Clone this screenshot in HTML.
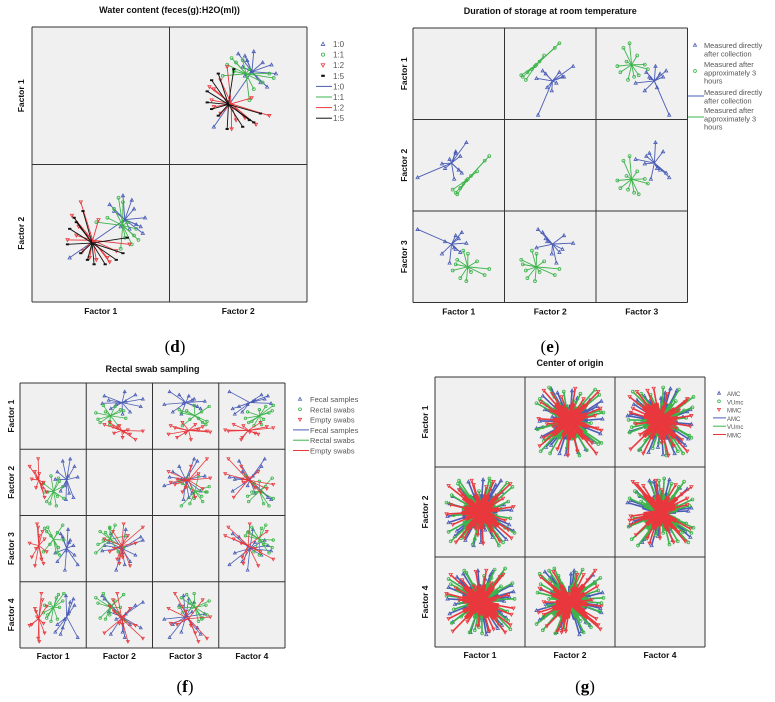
<!DOCTYPE html>
<html><head><meta charset="utf-8"><style>
html,body{margin:0;padding:0;background:#fff;}
svg{display:block;font-family:"Liberation Sans",sans-serif;}
.t{font-size:9px;font-weight:bold;fill:#111;text-anchor:middle;}
.ax{font-size:8.5px;font-weight:bold;fill:#111;text-anchor:middle;}
.lg{fill:#555;}
.cap{font-family:"Liberation Serif",serif;font-size:17px;fill:#000;text-anchor:middle;}
</style></head><body>
<svg id="fig" width="775" height="702" viewBox="0 0 775 702"></svg>
<script>
// ---------- data ----------
const dFactors = ["Factor 1","Factor 2"];
const dGroups = ["1:0","1:1","1:2","1:5"];
const dBlue = [[1.9,0.6],[1.7,0.2],[1.3,1.4],[0.9,1.6],[1.5,0.3],[1.2,0.1],[1.8,-0.1],[0.5,0.9],[0.3,1.2],[-1.5,-1.2],[1.0,0.5],[0.8,0.2],[1.4,1.0]];
const dGreen = [[1.6,-0.4],[1.4,-0.2],[0.7,1.5],[0.9,1.3],[1.1,0.4],[1.3,-0.6],[0.5,1.0],[1.0,-0.3],[0.2,0.6],[1.5,0.1],[-0.3,0.4],[0.8,-0.8]];
const dRed = [[-1.4,0.7],[-1.0,1.3],[-1.2,-0.2],[-0.9,-0.9],[-0.3,-1.3],[0.2,-1.2],[0.6,-0.9],[-1.6,-0.4],[-0.6,-1.2],[1.2,-0.6],[-0.2,0.5],[-1.1,0.2],[0.3,-1.4]];
const dBlack = [[-1.6,-0.6],[-1.3,0.6],[-0.9,0.9],[-0.4,-1.5],[0.1,-1.5],[0.9,-1.0],[1.1,-0.3],[-1.5,0.1],[-0.7,-1.3],[-1.0,-1.0],[0.6,-1.3],[-1.2,0.4]];

const eFactors = ["Factor 1","Factor 2","Factor 3"];
const eGroups = ["Measured directly after collection","Measured after approximately 3 hours"];
const eBlue = [[-2.7,-0.8,1.8],[0.5,1.5,0.9],[-0.2,0.9,1.4],[0.1,0.6,0.3],[-0.9,-0.2,1.0],[-0.6,0.4,-0.4],[-0.3,-0.9,0.6],[0.2,-0.5,1.6],[-1.1,0.1,0.2],[0.0,-0.3,1.2],[-0.2,0.8,0.5]];
const eGreen = [[2.0,0.6,-0.8],[1.7,0.3,-1.2],[1.2,-0.4,-0.3],[0.6,-0.9,0.2],[0.1,-1.5,-1.4],[-0.2,-1.8,-0.5],[-0.4,-1.6,-0.9],[0.3,-1.2,0.4],[0.8,-0.7,-1.0],[-0.1,-1.9,-0.2],[0.5,-1.0,-1.6]];

const fFactors = ["Factor 1","Factor 2","Factor 3","Factor 4"];
const fGroups = ["Fecal samples","Rectal swabs","Empty swabs"];
const fBlue = [[2.3,0.5,-1.5,-2.1],[1.6,2.2,0.8,1.2],[0.7,-0.8,1.4,-1.8],[2.0,1.5,-0.6,0.9],[0.4,1.0,-1.2,-0.9],[1.9,-1.4,0.3,1.5],[1.1,-0.3,-2.0,-0.4],[0.9,2.0,1.1,-1.2],[1.5,-1.0,0.6,0.3],[0.2,0.3,-0.4,-1.6],[1.4,0.6,1.8,0.1],[1.2,-1.6,-0.2,1.8]];
const fGreen = [[0.9,-0.4,2.2,1.3],[-0.6,-1.8,1.6,-0.3],[0.5,0.4,0.1,1.9],[-0.8,-0.9,1.9,0.9],[0.3,-2.2,-0.4,1.6],[-0.2,0.6,1.2,-0.6],[1.0,-1.5,0.8,2.0],[-0.9,-0.1,-0.3,0.2],[0.4,-1.3,1.5,-0.4],[-0.3,-2.0,0.4,1.1],[0.6,0.1,-0.6,0.7],[-0.5,-0.9,2.0,0.0]];
const fRed = [[-1.4,2.2,2.0,-2.2],[-2.0,0.3,-0.8,-0.9],[-1.0,-0.6,1.6,1.4],[-1.7,1.0,-1.6,0.6],[-0.8,-1.4,0.9,-1.7],[-1.5,0.4,2.3,-0.2],[-1.1,-0.2,-1.0,2.0],[-2.2,1.5,0.5,-1.0],[-0.6,-0.9,-0.3,0.8],[-1.3,0.8,1.2,-2.5],[-1.6,-0.5,0.0,0.3],[-0.9,0.0,-1.4,-0.8]];

const gFactors = ["Factor 1","Factor 2","Factor 4"];
const gGroups = ["AMC","VUmc","MMC"];
const gBlue = [[2.8,-1.2,0.5],[-2.9,0.8,-1.1],[1.5,2.6,-0.3],[-1.4,-2.7,1.2],[0.3,3.1,0.9],[2.1,1.9,-2.2],[-2.2,-1.8,2.4],[3.0,0.2,1.6],[-0.6,-3.2,-0.8],[1.2,-2.4,2.9],[-3.1,-0.4,0.3],[0.8,1.1,-2.8],[-1.9,2.3,1.9],[2.5,-2.6,-1.5],[-0.2,0.4,3.0],[1.7,-0.9,-2.5],[-2.6,1.5,-1.9],[0.5,-1.7,2.2],[-1.1,2.9,-0.6],[2.3,0.7,0.1],[-0.9,-1.3,-2.9],[1.0,2.2,2.6],[-2.4,-2.3,-0.2],[3.2,-1.8,1.0],[-1.6,0.1,2.7],[0.1,-2.9,-1.7],[2.0,3.0,-1.0],[-3.0,-1.0,1.4],[0.6,0.9,-3.1],[-0.4,1.8,0.6]];
const gGreen = [[3.1,2.4,1.8],[-2.7,1.6,-2.0],[2.2,-2.9,2.7],[-1.8,-2.5,-1.4],[0.9,3.2,0.4],[2.9,-0.6,-2.6],[-3.0,-1.9,2.2],[1.4,1.2,3.1],[-0.7,-3.1,0.9],[2.6,2.8,-0.9],[-2.1,2.7,1.1],[0.2,-1.4,-3.0],[-1.3,0.6,2.8],[3.3,-2.0,0.3],[-2.5,-0.3,-0.7],[1.8,-3.2,-2.1],[-0.1,2.0,-2.4],[2.0,0.3,1.5],[-1.5,-2.0,3.0],[0.7,-0.5,-1.2],[-3.2,0.9,0.6],[1.1,2.9,2.3],[-0.5,-2.6,-2.7],[2.7,1.0,-1.8],[-2.0,3.0,-0.1],[0.4,-1.1,2.5],[1.6,-2.2,-0.4],[-1.0,1.3,-2.9],[2.4,-1.5,3.2],[-2.8,-2.8,1.7]];
const gRed = [[2.9,2.7,-2.2],[-3.0,2.5,-1.6],[1.9,-2.8,2.4],[-2.3,-2.9,1.3],[0.6,2.4,3.0],[3.2,0.5,-0.6],[-2.6,-1.2,-2.8],[1.1,-1.9,1.8],[-0.8,3.0,-0.4],[2.4,-0.8,-2.9],[-1.7,1.7,2.1],[0.3,-3.0,-1.0],[-3.2,-0.2,0.8],[1.6,1.6,-1.5],[-0.4,-1.6,2.9],[2.7,-1.7,0.7],[-1.2,-0.6,-1.9],[0.8,0.2,1.1],[-2.0,2.1,0.2],[1.3,2.9,-2.6],[-0.2,-2.2,-2.3],[2.2,1.3,2.6],[-1.5,-2.5,0.0],[0.0,1.0,-0.8],[3.0,-2.5,-1.2],[-2.8,0.7,2.6],[0.9,-0.4,-2.8],[-0.6,2.6,1.5],[1.7,-1.2,0.5],[-1.1,0.5,-0.2]];

// ---------- drawing ----------
const NS = "http://www.w3.org/2000/svg";
const fig = document.getElementById('fig');
const BLUE="#4a5cb5", GREEN="#3cb44b", RED="#e8383d", BLACK="#111";
function mk(tag, attrs, parent){
  const e = document.createElementNS(NS, tag);
  for (const k in attrs) e.setAttribute(k, attrs[k]);
  (parent||fig).appendChild(e);
  return e;
}
function txt(x,y,s,cls,parent,extra){
  const t = mk('text', Object.assign({x:x,y:y,class:cls}, extra||{}), parent);
  t.textContent = s;
  return t;
}
function marker(g, kind, x, y, col, sz){
  let m;
  if (kind==='tri') m = mk('polygon',{points:`${x},${y-sz} ${x-sz},${y+sz*0.8} ${x+sz},${y+sz*0.8}`,fill:'none',stroke:col,'stroke-width':0.8},g);
  else if (kind==='itri') m = mk('polygon',{points:`${x},${y+sz} ${x-sz},${y-sz*0.8} ${x+sz},${y-sz*0.8}`,fill:'none',stroke:col,'stroke-width':0.8},g);
  else if (kind==='circ') m = mk('circle',{cx:x,cy:y,r:sz*0.9,fill:'none',stroke:col,'stroke-width':0.8},g);
  else m = mk('rect',{x:x-sz,y:y-sz*0.6,width:sz*2,height:sz*1.2,fill:col},g);
  
  
}

function matrix(o){
  const root = mk('g', {});
  
  
  const n = o.factors.length, c = o.cell;
  txt(o.x0 + n*c/2, o.titleY, o.title, 't', root);
  mk('rect',{x:o.x0,y:o.y0,width:n*c,height:n*c,fill:'#f0f0f0',stroke:'none'},root);
  const sc = v => (v - o.dom[0])/(o.dom[1]-o.dom[0]) * c;
  for (let i=0;i<n;i++) for (let j=0;j<n;j++){
    if (i===j) continue;
    const cg = mk('g',{},root);
    
    
    const cx0 = o.x0 + j*c, cy0 = o.y0 + i*c;
    const X = v => cx0 + sc(v), Y = v => cy0 + c - sc(v);
    o.groups.forEach(gr => {
      const pts = gr.pts;
      const mx = pts.reduce((s,p)=>s+p[j],0)/pts.length;
      const my = pts.reduce((s,p)=>s+p[i],0)/pts.length;
      pts.forEach(p => {
        const l = mk('line',{x1:X(mx),y1:Y(my),x2:X(p[j]),y2:Y(p[i]),stroke:gr.col,'stroke-width':o.lw},cg);
        
        
        if (o.inner) {
          const l2 = mk('line',{x1:X(mx),y1:Y(my),x2:X(mx+(p[j]-mx)*0.55),y2:Y(my+(p[i]-my)*0.55),stroke:gr.col,'stroke-width':o.inner},cg);
          
          
        }
      });
      pts.forEach(p => marker(cg, gr.mk, X(p[j]), Y(p[i]), gr.col, o.ms));
    });
  }
  for (let k=0;k<=n;k++){
    mk('line',{x1:o.x0+k*c,y1:o.y0,x2:o.x0+k*c,y2:o.y0+n*c,stroke:'#333','stroke-width':1},root);
    mk('line',{x1:o.x0,y1:o.y0+k*c,x2:o.x0+n*c,y2:o.y0+k*c,stroke:'#333','stroke-width':1},root);
  }
  o.factors.forEach((f,k)=>{
    const t = txt(o.x0+k*c+c/2, o.y0+n*c+o.xlOff, f, 'ax', root);
    
    const yy = o.y0+k*c+c/2, xx = o.x0-o.ylOff;
    const t2 = txt(xx, yy, f, 'ax', root, {transform:`rotate(-90 ${xx} ${yy})`});
    
  });
  const lg = mk('g',{},root);
  
  
  let y = o.lg.y;
  o.lg.items.forEach(it=>{
    const my = it.y!==undefined ? it.y : y;
    const lines = it.text.split('\n');
    if (it.line) mk('line',{x1:o.lg.lx1,y1:my,x2:o.lg.lx2,y2:my,stroke:it.col,'stroke-width':1},lg);
    else marker(lg, it.mk, o.lg.mx, my, it.col, o.lg.ms);
    const ty = it.ty!==undefined ? it.ty : my + 3;
    lines.forEach((s,q)=>{
      const t = txt(o.lg.tx, ty + q*(o.lg.lh||o.lg.step), s, 'lg', lg, {'font-size':o.lg.fs});
      
    });
    y += o.lg.step;
  });
}

// (d)
matrix({name:'water-content-chart', title:'Water content (feces(g):H2O(ml))', titleY:13,
  x0:32,y0:27,cell:137.5,factors:dFactors,dom:[-3.2,3.0],lw:0.9,ms:1.6,xlOff:12,ylOff:8,
  groups:[{pts:dBlue,col:BLUE,mk:'tri'},{pts:dGreen,col:GREEN,mk:'circ'},{pts:dRed,col:RED,mk:'itri'},{pts:dBlack,col:BLACK,mk:'sq'}],
  lg:{y:44,step:10.6,mx:323,tx:333,lx1:316,lx2:332,fs:8,ms:1.8,items:[
    {text:'1:0',col:BLUE,mk:'tri'},{text:'1:1',col:GREEN,mk:'circ'},{text:'1:2',col:RED,mk:'itri'},{text:'1:5',col:BLACK,mk:'sq'},
    {text:'1:0',col:BLUE,line:1},{text:'1:1',col:GREEN,line:1},{text:'1:2',col:RED,line:1},{text:'1:5',col:BLACK,line:1}]}});

// (e)
matrix({name:'storage-duration-chart', title:'Duration of storage at room temperature', titleY:14,
  x0:413,y0:28,cell:91.5,factors:eFactors,dom:[-3,3],lw:0.9,ms:1.6,xlOff:12,ylOff:6,
  groups:[{pts:eBlue,col:BLUE,mk:'tri'},{pts:eGreen,col:GREEN,mk:'circ'}],
  lg:{y:45,step:10,lh:8.3,mx:695,tx:704,lx1:688,lx2:704,fs:7.4,ms:1.6,items:[
    {text:'Measured directly\nafter collection',col:BLUE,mk:'tri',y:45,ty:48},
    {text:'Measured after\napproximately 3\nhours',col:GREEN,mk:'circ',y:71,ty:67},
    {text:'Measured directly\nafter collection',col:BLUE,line:1,y:96,ty:95},
    {text:'Measured after\napproximately 3\nhours',col:GREEN,line:1,y:117,ty:113}]}});

// (f)
matrix({name:'rectal-swab-chart', title:'Rectal swab sampling', titleY:372,
  x0:20,y0:383,cell:66.25,factors:fFactors,dom:[-3.1,3.1],lw:0.8,ms:1.4,xlOff:11,ylOff:6,
  groups:[{pts:fBlue,col:BLUE,mk:'tri'},{pts:fGreen,col:GREEN,mk:'circ'},{pts:fRed,col:RED,mk:'itri'}],
  lg:{y:399,step:10.3,mx:300,tx:310,lx1:293,lx2:309,fs:7.5,ms:1.6,items:[
    {text:'Fecal samples',col:BLUE,mk:'tri'},{text:'Rectal swabs',col:GREEN,mk:'circ'},{text:'Empty swabs',col:RED,mk:'itri'},
    {text:'Fecal samples',col:BLUE,line:1},{text:'Rectal swabs',col:GREEN,line:1},{text:'Empty swabs',col:RED,line:1}]}});

// (g)
matrix({name:'center-of-origin-chart', title:'Center of origin', titleY:366,
  x0:435,y0:377,cell:90,factors:gFactors,dom:[-4.3,4.3],lw:1.6,inner:4.5,ms:1.6,xlOff:11,ylOff:7,
  groups:[{pts:gBlue,col:BLUE,mk:'tri'},{pts:gGreen,col:GREEN,mk:'circ'},{pts:gRed,col:RED,mk:'itri'}],
  lg:{y:393,step:8.3,mx:719,tx:727,lx1:713,lx2:726,fs:6,ms:1.5,items:[
    {text:'AMC',col:BLUE,mk:'tri'},{text:'VUmc',col:GREEN,mk:'circ'},{text:'MMC',col:RED,mk:'itri'},
    {text:'AMC',col:BLUE,line:1},{text:'VUmc',col:GREEN,line:1},{text:'MMC',col:RED,line:1}]}});

// captions
[['(d)',175,352],['(e)',550,352],['(f)',185,692],['(g)',585,692]].forEach(a=>{
  const t = txt(a[1],a[2],'','cap');
  
  
  const p1 = mk('tspan',{},t); p1.textContent='(';
  const p2 = mk('tspan',{'font-weight':'bold'},t); p2.textContent=a[0].slice(1,2);
  const p3 = mk('tspan',{},t); p3.textContent=')';
});
</script>
</body></html>
